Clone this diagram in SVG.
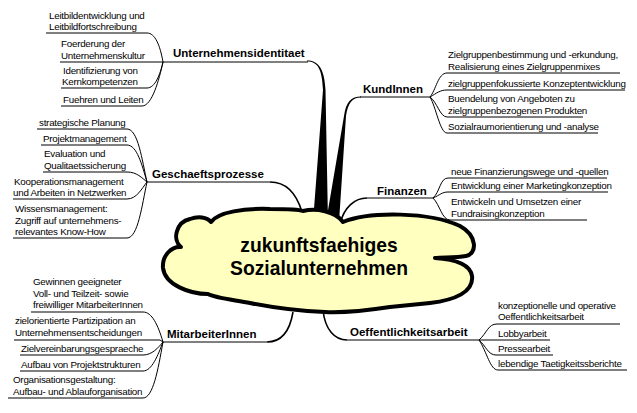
<svg xmlns="http://www.w3.org/2000/svg" width="637" height="413" viewBox="0 0 637 413">
<style>
text{font-family:"Liberation Sans",Arial,sans-serif;fill:#000}
.t{font-size:9.8px;letter-spacing:-0.25px}
.h{font-size:11.5px;font-weight:bold}
.c{font-size:19.3px;font-weight:bold;text-anchor:middle}
.ln{fill:none;stroke:#000;stroke-width:1}
.br{fill:none;stroke:#000;stroke-width:1.6}
.sp{fill:#000;stroke:none}
.cloud{fill:#FFFFC0;stroke:#000;stroke-width:4;stroke-linejoin:round}
</style>
<rect width="637" height="413" fill="#fff"/>
<g id="connectors">
  <path class="ln" d="M163,62 H308"/>
  <path class="sp" d="M307,61.5 C318,61.5 322,69 323,90 L313,222 L328,222 L325.5,90 C324.5,68 318,60.5 307,60.5 Z"/>
  <path class="ln" d="M430,97 H360"/>
  <path class="sp" d="M361,96.5 C351,96.5 346,102 344,116 L326,222 L339,222 L346,116 C348,103 352,97.5 361,97.5 Z"/>
  <path class="ln" d="M147,182 H270"/>
  <path class="br" d="M270,182 C285,182 296,192 302,212"/>
  <path class="ln" d="M433,198 H367"/>
  <path class="br" d="M367,198 C355,198 344,207 340,224"/>
  <path class="ln" d="M163,342 H267"/>
  <path class="br" d="M267,342 C282,342 290,330 293,312"/>
  <path class="ln" d="M479,340 H347"/>
  <path class="br" d="M347,340 C335,340 325,330 323,310"/>
  <path class="ln" d="M46,33 H147 C155,33 160,45 163,62"/>
  <path class="ln" d="M60,62 H163"/>
  <path class="ln" d="M61,88 H147 C155,88 160,75 163,62"/>
  <path class="ln" d="M61,106 H142 C152,106 159,80 163,62"/>
  <path class="ln" d="M430,97 C436,90 438,73 447,73 H620"/>
  <path class="ln" d="M430,97 C437,93 440,90 447,90 H625"/>
  <path class="ln" d="M430,97 C437,102 440,117 447,117 H583"/>
  <path class="ln" d="M430,97 C436,107 440,133 447,133 H598"/>
  <path class="ln" d="M37,129 H127 C138,129 142,160 147,182"/>
  <path class="ln" d="M41,145 H127 C137,145 142,165 147,182"/>
  <path class="ln" d="M43,172 H127 C137,172 142,178 147,182"/>
  <path class="ln" d="M13,199 H127 C137,199 142,188 147,182"/>
  <path class="ln" d="M13,238 H127 C138,238 142,205 147,182"/>
  <path class="ln" d="M433,198 C440,192 440,178 448,178 H607"/>
  <path class="ln" d="M433,198 C440,195 442,192 448,192 H608"/>
  <path class="ln" d="M433,198 C440,205 442,220 450,220 H587"/>
  <path class="ln" d="M31,312 H143 C152,312 158,325 163,342"/>
  <path class="ln" d="M14,340 H160 L163,342"/>
  <path class="ln" d="M20,355 H143 C152,355 158,348 163,342"/>
  <path class="ln" d="M20,371 H143 C152,371 158,355 163,342"/>
  <path class="ln" d="M8,398 H143 C153,398 158,370 163,342"/>
  <path class="ln" d="M479,340 C487,333 488,324 497,324 H620"/>
  <path class="ln" d="M479,340 H550"/>
  <path class="ln" d="M479,340 C486,346 488,355 496,355 H553"/>
  <path class="ln" d="M479,340 C487,352 490,370 498,370 H627"/>
</g>
<g id="center">
  <path class="cloud" d="M181,247 C172,240 176,222 190,219 C198,216 207,217 211,222 C218,212 245,208 270,209 C285,209 298,209 303,211 C316,208 335,211 343,222 C370,211 430,212 460,226 C478,236 477,254 466,256 C455,258 442,257 435,258 C450,259 470,262 472,276 C474,292 455,300 430,303 C410,305 400,306 390,307 C370,310 345,313 325,312 C300,311 270,307 250,303 C235,300 215,298 208,294 C190,294 165,285 163,268 C162,255 172,246 181,247 Z"/>
  <text class="c" x="319" y="252">zukunftsfaehiges</text>
  <text class="c" x="319" y="275">Sozialunternehmen</text>
</g>
<g id="unternehmensidentitaet">
  <text class="h" x="173" y="57">Unternehmensidentitaet</text>
  <text class="t" x="49" y="19">Leitbildentwicklung und</text>
  <text class="t" x="49" y="30">Leitbildfortschreibung</text>
  <text class="t" x="61" y="47">Foerderung der</text>
  <text class="t" x="61" y="59">Unternehmenskultur</text>
  <text class="t" x="63" y="74">Identifizierung von</text>
  <text class="t" x="62" y="85">Kernkompetenzen</text>
  <text class="t" x="63" y="103">Fuehren und Leiten</text>
</g>
<g id="kundinnen">
  <text class="h" x="363" y="93">KundInnen</text>
  <text class="t" x="448" y="58">Zielgruppenbestimmung und -erkundung,</text>
  <text class="t" x="448" y="70">Realisierung eines Zielgruppenmixes</text>
  <text class="t" x="448" y="87">zielgruppenfokussierte Konzeptentwicklung</text>
  <text class="t" x="448" y="102">Buendelung von Angeboten zu</text>
  <text class="t" x="448" y="114">zielgruppenbezogenen Produkten</text>
  <text class="t" x="448" y="130">Sozialraumorientierung und -analyse</text>
</g>
<g id="geschaeftsprozesse">
  <text class="h" x="152" y="178">Geschaeftsprozesse</text>
  <text class="t" x="39" y="126">strategische Planung</text>
  <text class="t" x="43" y="142">Projektmanagement</text>
  <text class="t" x="44" y="157">Evaluation und</text>
  <text class="t" x="44" y="169">Qualitaetssicherung</text>
  <text class="t" x="14" y="185">Kooperationsmanagement</text>
  <text class="t" x="13" y="196">und Arbeiten in Netzwerken</text>
  <text class="t" x="15" y="212">Wissensmanagement:</text>
  <text class="t" x="15" y="224">Zugriff auf unternehmens-</text>
  <text class="t" x="15" y="235">relevantes Know-How</text>
</g>
<g id="finanzen">
  <text class="h" x="377" y="195">Finanzen</text>
  <text class="t" x="451" y="175">neue Finanzierungswege und -quellen</text>
  <text class="t" x="451" y="189">Entwicklung einer Marketingkonzeption</text>
  <text class="t" x="451" y="205">Entwickeln und Umsetzen einer</text>
  <text class="t" x="451" y="217">Fundraisingkonzeption</text>
</g>
<g id="mitarbeiterinnen">
  <text class="h" x="167" y="338">MitarbeiterInnen</text>
  <text class="t" x="33" y="285">Gewinnen geeigneter</text>
  <text class="t" x="33" y="297">Voll- und Teilzeit- sowie</text>
  <text class="t" x="33" y="308">freiwilliger MitarbeiterInnen</text>
  <text class="t" x="15" y="324">zielorientierte Partizipation an</text>
  <text class="t" x="15" y="336">Unternehmensentscheidungen</text>
  <text class="t" x="21" y="352">Zielvereinbarungsgespraeche</text>
  <text class="t" x="21" y="368">Aufbau von Projektstrukturen</text>
  <text class="t" x="13" y="383">Organisationsgestaltung:</text>
  <text class="t" x="13" y="395">Aufbau- und Ablauforganisation</text>
</g>
<g id="oeffentlichkeitsarbeit">
  <text class="h" x="350" y="336">Oeffentlichkeitsarbeit</text>
  <text class="t" x="498" y="309">konzeptionelle und operative</text>
  <text class="t" x="498" y="320">Oeffentlichkeitsarbeit</text>
  <text class="t" x="498" y="337">Lobbyarbeit</text>
  <text class="t" x="498" y="352">Pressearbeit</text>
  <text class="t" x="498" y="367">lebendige Taetigkeitssberichte</text>
</g>
</svg>
